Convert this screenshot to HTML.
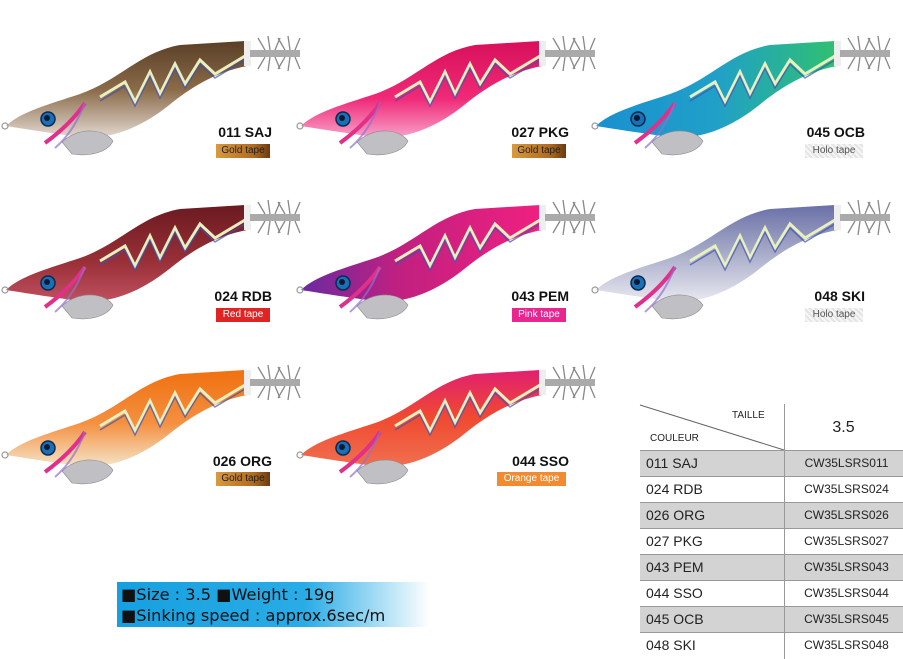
<!DOCTYPE html>
<html><head><meta charset="utf-8">
<style>
body{margin:0;width:903px;height:659px;background:#fff;position:relative;overflow:hidden;font-family:"Liberation Sans",sans-serif}
.lab{position:absolute;font-weight:bold;font-size:14px;color:#111;text-align:right;width:120px}
.tape{position:absolute;font-size:10px;height:14px;line-height:14px;text-align:center;color:#fff}
.gold{background:linear-gradient(90deg,#d89a40,#b06a20 70%,#6a3a10);color:#222}
.holo{background:repeating-linear-gradient(45deg,#e4e4e4 0 2px,#f6f6f6 2px 4px);color:#555}
.red{background:#e02424}.pink{background:#e8268e}.orange{background:#f28a30}
#tbl{position:absolute;left:640px;top:404px;width:263px;height:255px;font-size:14px;color:#222}
.row{position:absolute;left:0;width:263px;height:25px;border-top:1px solid #999;line-height:25px}
.row.g{background:#d3d3d3}
.row span{position:absolute;left:6px}
.row b{position:absolute;left:150px;width:113px;text-align:center;font-weight:normal;font-size:12px}
#spec{position:absolute;left:117px;top:582px;width:313px;height:45px;background:linear-gradient(90deg,#16a0e0 0%,#29ace6 60%,#fff 100%);font-size:16.2px;line-height:21px;padding-left:4px;box-sizing:border-box;padding-top:2px;color:#111;font-family:"DejaVu Sans",sans-serif;letter-spacing:0px}
</style></head><body>
<svg width="903" height="659" style="position:absolute;left:0;top:0">
<defs>
<path id="body" d="M6,126 C20,112 50,104 80,94 C120,80 140,52 180,45 L245,41 L247,66 C215,72 190,88 168,106 C140,128 110,140 80,137 C50,133 25,129 6,126 Z"/>
<g id="extra">
<path d="M62,142 C80,126 105,129 113,141 C108,152 90,157 72,154 Z" fill="#c0c0c4" stroke="#8a8a8a" stroke-width="0.6"/>
<path d="M85,103 C75,118 60,132 45,143" stroke="#e0308a" stroke-width="4" fill="none"/>
<path d="M85,103 C78,120 70,135 55,148" stroke="#9070d0" stroke-width="2" fill="none" opacity=".7"/>
<polyline points="100,97 125,82 135,102 150,72 160,94 175,64 185,84 200,60 215,74 245,56" fill="none" stroke="#e8f0c0" stroke-width="3"/>
<polyline points="100,101 125,86 135,106 150,76 160,98 175,68 185,88 200,64 215,78 245,60" fill="none" stroke="#4050b0" stroke-width="1.5" opacity=".7"/>
<circle cx="48" cy="119" r="7" fill="#1a70b8" stroke="#0a2a50" stroke-width="1.5"/>
<circle cx="47" cy="118" r="3" fill="#0a1a30"/>
<circle cx="5" cy="126" r="3" fill="none" stroke="#999" stroke-width="1.2"/>
<rect x="244" y="41" width="7" height="25" fill="#eee"/>
<rect x="250" y="50" width="50" height="7" fill="#aaa"/>
<g stroke="#888" stroke-width="1.3" fill="none">
<path d="M265,50 l-7,-12 M270,50 l-2,-14 M275,50 l5,-12 M265,57 l-7,12 M270,57 l-2,14 M275,57 l5,12"/>
<path d="M285,50 l-7,-12 M290,50 l-2,-14 M295,50 l5,-12 M285,57 l-7,12 M290,57 l-2,14 M295,57 l5,12"/>
</g>
</g>
<linearGradient id="g1" x1="0" y1="0" x2="0" y2="1"><stop offset="0" stop-color="#5a4028"/><stop offset=".5" stop-color="#8a6a48"/><stop offset="1" stop-color="#e2d8d0"/></linearGradient>
<linearGradient id="g2" x1="0" y1="0" x2="0" y2="1"><stop offset="0" stop-color="#d8105a"/><stop offset=".6" stop-color="#f02a78"/><stop offset="1" stop-color="#f8a0c8"/></linearGradient>
<linearGradient id="g3" x1="0" y1="0" x2="1" y2="0"><stop offset="0" stop-color="#1a90d0"/><stop offset=".5" stop-color="#20a0c8"/><stop offset="1" stop-color="#30c070"/></linearGradient>
<linearGradient id="g4" x1="0" y1="0" x2="0" y2="1"><stop offset="0" stop-color="#6a1a20"/><stop offset=".6" stop-color="#9a3038"/><stop offset="1" stop-color="#c05060"/></linearGradient>
<linearGradient id="g5" x1="0" y1="0" x2="1" y2="0"><stop offset="0" stop-color="#6a2aa0"/><stop offset=".4" stop-color="#c02080"/><stop offset="1" stop-color="#f02080"/></linearGradient>
<linearGradient id="g6" x1="0" y1="0" x2="0" y2="1"><stop offset="0" stop-color="#6a70a8"/><stop offset=".5" stop-color="#a8acc8"/><stop offset="1" stop-color="#e8e8f0"/></linearGradient>
<linearGradient id="g7" x1="0" y1="0" x2="0" y2="1"><stop offset="0" stop-color="#f07010"/><stop offset=".55" stop-color="#f49040"/><stop offset="1" stop-color="#f4e4c8"/></linearGradient>
<linearGradient id="g8" x1="0" y1="0" x2="0" y2="1"><stop offset="0" stop-color="#e02070"/><stop offset=".5" stop-color="#f04a30"/><stop offset="1" stop-color="#f07050"/></linearGradient>
</defs>
<g transform="translate(0,0)"><use href="#body" fill="url(#g1)"/><use href="#extra"/></g>
<g transform="translate(295,0)"><use href="#body" fill="url(#g2)"/><use href="#extra"/></g>
<g transform="translate(590,0)"><use href="#body" fill="url(#g3)"/><use href="#extra"/></g>
<g transform="translate(0,164)"><use href="#body" fill="url(#g4)"/><use href="#extra"/></g>
<g transform="translate(295,164)"><use href="#body" fill="url(#g5)"/><use href="#extra"/></g>
<g transform="translate(590,164)"><use href="#body" fill="url(#g6)"/><use href="#extra"/></g>
<g transform="translate(0,329)"><use href="#body" fill="url(#g7)"/><use href="#extra"/></g>
<g transform="translate(295,329)"><use href="#body" fill="url(#g8)"/><use href="#extra"/></g>
<line x1="640" y1="405" x2="784" y2="450" stroke="#666" stroke-width="1"/>
</svg>

<div class="lab" style="left:152px;top:124px">011 SAJ</div>
<div class="tape gold" style="left:216px;top:144px;width:54px">Gold tape</div>
<div class="lab" style="left:449px;top:124px">027 PKG</div>
<div class="tape gold" style="left:512px;top:144px;width:54px">Gold tape</div>
<div class="lab" style="left:745px;top:124px">045 OCB</div>
<div class="tape holo" style="left:805px;top:144px;width:58px">Holo tape</div>

<div class="lab" style="left:152px;top:288px">024 RDB</div>
<div class="tape red" style="left:216px;top:308px;width:54px">Red tape</div>
<div class="lab" style="left:449px;top:288px">043 PEM</div>
<div class="tape pink" style="left:512px;top:308px;width:54px">Pink tape</div>
<div class="lab" style="left:745px;top:288px">048 SKI</div>
<div class="tape holo" style="left:805px;top:308px;width:58px">Holo tape</div>

<div class="lab" style="left:152px;top:453px">026 ORG</div>
<div class="tape gold" style="left:216px;top:472px;width:54px">Gold tape</div>
<div class="lab" style="left:449px;top:453px">044 SSO</div>
<div class="tape orange" style="left:497px;top:472px;width:69px">Orange tape</div>

<div id="tbl">
<div style="position:absolute;left:144px;top:0;width:1px;height:255px;background:#999;z-index:2"></div>
<div style="position:absolute;left:92px;top:6px;font-size:10px">TAILLE</div>
<div style="position:absolute;left:10px;top:29px;font-size:10px">COULEUR</div>
<div style="position:absolute;left:144px;top:15px;width:119px;text-align:center;font-size:16px">3.5</div>
<div class="row g" style="top:46px"><span>011 SAJ</span><b>CW35LSRS011</b></div>
<div class="row" style="top:72px"><span>024 RDB</span><b>CW35LSRS024</b></div>
<div class="row g" style="top:98px"><span>026 ORG</span><b>CW35LSRS026</b></div>
<div class="row" style="top:124px"><span>027 PKG</span><b>CW35LSRS027</b></div>
<div class="row g" style="top:150px"><span>043 PEM</span><b>CW35LSRS043</b></div>
<div class="row" style="top:176px"><span>044 SSO</span><b>CW35LSRS044</b></div>
<div class="row g" style="top:202px"><span>045 OCB</span><b>CW35LSRS045</b></div>
<div class="row" style="top:228px"><span>048 SKI</span><b>CW35LSRS048</b></div>
</div>

<div id="spec">■Size : 3.5 ■Weight : 19g<br>■Sinking speed : approx.6sec/m</div>
</body></html>
